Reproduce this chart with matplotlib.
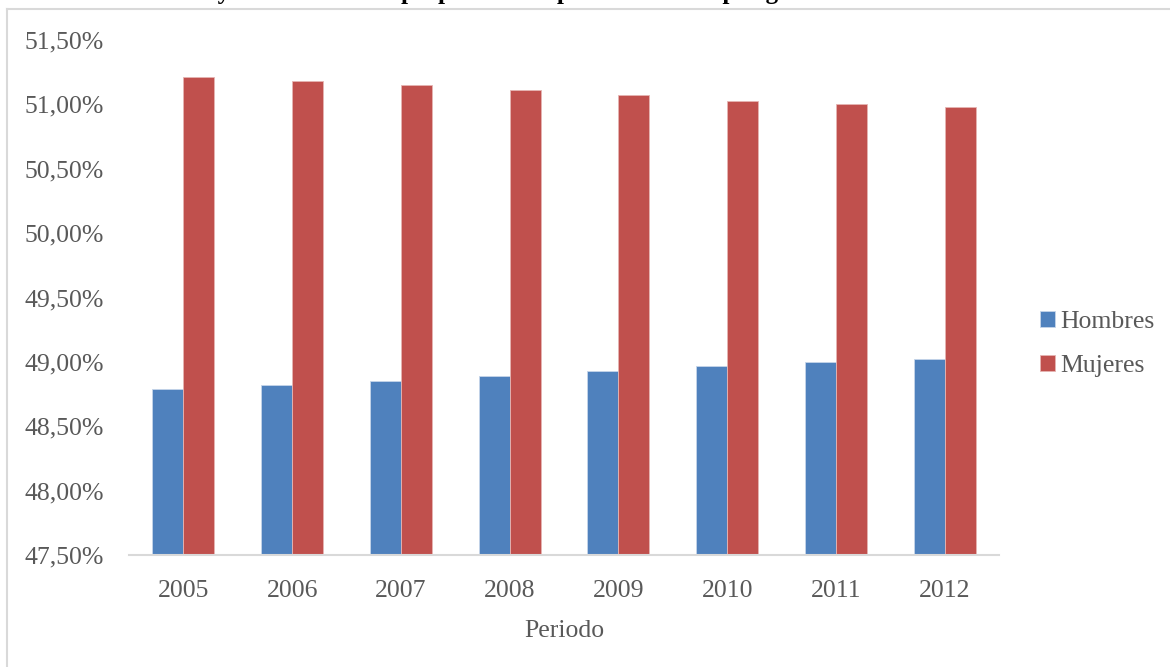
import matplotlib
matplotlib.use("Agg")
import matplotlib.pyplot as plt
from matplotlib.lines import Line2D
import numpy as np

# Porcentaje de la población por género, 2005-2012
periodos = ["2005", "2006", "2007", "2008", "2009", "2010", "2011", "2012"]
hombres = [48.79, 48.82, 48.85, 48.89, 48.93, 48.97, 49.00, 49.02]
mujeres = [51.21, 51.18, 51.15, 51.11, 51.07, 51.03, 51.00, 50.98]
marcas_y = [47.5, 48.0, 48.5, 49.0, 49.5, 50.0, 50.5, 51.0, 51.5]

azul = "#4F81BD"
rojo = "#C0504D"
gris = "#595959"

plt.rcParams["font.family"] = ["Liberation Serif", "DejaVu Serif"]

fig = plt.figure(figsize=(11.7, 6.67), dpi=100)
W, H = 1170, 667
ax = fig.add_axes([129 / W, 1 - 555 / H, (999 - 129) / W, (555 - 40) / H])

x = np.arange(len(periodos))
ancho = 0.285
ax.bar(x - ancho / 2, hombres, ancho, bottom=0, color=azul,
       edgecolor="#C6D5EA", linewidth=0.6, label="Hombres", zorder=2)
ax.bar(x + ancho / 2, mujeres, ancho, bottom=0, color=rojo,
       edgecolor="#E6B5B3", linewidth=0.6, label="Mujeres", zorder=2)

ax.set_ylim(47.5, 51.5)
ax.set_xlim(-0.5, len(periodos) - 0.5)
ax.set_yticks(marcas_y)
ax.set_yticklabels([("%.2f%%" % v).replace(".", ",") for v in marcas_y])
ax.set_xticks(x)
ax.set_xticklabels(periodos)
ax.tick_params(axis="both", length=0, labelsize=18.5, colors=gris)
ax.tick_params(axis="y", pad=18)
ax.tick_params(axis="x", pad=18)

for lado in ["left", "right", "top"]:
    ax.spines[lado].set_visible(False)
ax.spines["bottom"].set_color("#D9D9D9")
ax.spines["bottom"].set_linewidth(1.5)

ax.set_xlabel("Periodo", fontsize=18.5, color=gris, labelpad=13)

ax.legend(loc="center left", bbox_to_anchor=(1.035, 0.41), frameon=False,
          fontsize=18.5, labelcolor=gris, handlelength=0.6, handleheight=0.6,
          handletextpad=0.2, labelspacing=0.85, borderaxespad=0)

# marco del área del gráfico
fig.add_artist(Line2D([7 / W, 7 / W], [0, 1 - 9 / H], color="#D9D9D9", lw=1.5))
fig.add_artist(Line2D([7 / W, 1], [1 - 9 / H, 1 - 9 / H], color="#D9D9D9", lw=1.5))

# título (queda por encima del marco)
fig.text(95 / W, 1 + 1 / H, "Estructura y evolución de la proporción de población total por género",
         fontsize=18, fontweight="bold", color="black", va="baseline", ha="left")

fig.savefig("out.png", dpi=100)
